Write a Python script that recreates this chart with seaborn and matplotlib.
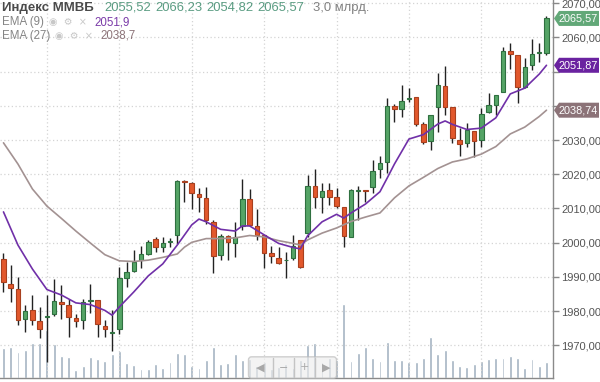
import numpy as np
import pandas as pd
import matplotlib
matplotlib.use("Agg")
import matplotlib.pyplot as plt
import seaborn as sns
from matplotlib.patches import Polygon, FancyBboxPatch
from matplotlib.ticker import FuncFormatter
from matplotlib.transforms import IdentityTransform

# дневные свечи индекса ММВБ
opens = [1995.2, 1987.9, 1986.5, 1977.8, 1980.2, 1977.0, 1978.3, 1979.2, 1982.7, 1981.9,
         1978.0, 1977.4, 1983.0, 1983.2, 1975.7, 1973.5, 1974.7, 1989.8, 1991.7, 1994.8,
         1996.8, 2001.1, 1998.6, 2000.1, 2002.3, 2018.1, 2017.4, 2014.2, 2013.0, 2006.1,
         1996.4, 2002.0, 1999.8, 2004.9, 2012.7, 2005.0, 2002.2, 1997.1, 1995.6, 1994.8,
         1995.4, 2000.8, 2002.7, 2016.6, 2013.3, 2015.4, 2013.3, 2010.5, 2001.8, 2015.1,
         2015.4, 2016.2, 2021.5, 2023.5, 2040.0, 2039.0, 2041.9, 2042.7, 2034.6, 2029.8,
         2039.6, 2045.8, 2039.8, 2030.0, 2029.1, 2032.7, 2030.0, 2038.1, 2040.3, 2044.2,
         2056.1, 2054.9, 2045.4, 2052.0, 2055.5, 2055.52]
highs = [1997.1, 1993.5, 1990.1, 1981.9, 1984.7, 1981.3, 1984.7, 1989.3, 1987.6, 1983.5,
         1979.2, 1983.5, 1987.8, 1983.2, 1977.4, 1980.3, 1993.0, 1994.4, 1997.9, 1999.0,
         2000.9, 2001.7, 2001.8, 2001.5, 2018.3, 2018.2, 2017.8, 2015.9, 2016.4, 2006.6,
         2002.5, 2002.3, 2006.0, 2018.5, 2015.6, 2009.8, 2002.2, 1999.0, 1998.7, 1997.4,
         2002.2, 2000.8, 2019.8, 2021.5, 2017.4, 2017.4, 2015.9, 2010.5, 2015.6, 2016.6,
         2015.4, 2024.2, 2025.4, 2042.4, 2040.6, 2046.1, 2045.1, 2042.7, 2035.2, 2037.3,
         2049.5, 2051.8, 2039.8, 2033.5, 2034.9, 2032.7, 2039.3, 2043.7, 2043.1, 2057.3,
         2058.5, 2054.9, 2053.9, 2059.5, 2058.3, 2066.23]
lows = [1985.7, 1982.7, 1975.9, 1973.8, 1975.9, 1972.0, 1965.1, 1978.6, 1977.6, 1972.5,
        1975.3, 1974.9, 1979.5, 1972.5, 1972.5, 1968.3, 1973.2, 1987.0, 1991.5, 1992.5,
        1996.4, 1997.4, 1997.4, 1998.7, 1999.5, 2011.8, 2009.8, 2009.1, 2005.5, 1991.1,
        1994.9, 1994.9, 1995.9, 2003.7, 2005.0, 2000.8, 1992.5, 1994.0, 1993.8, 1989.6,
        1994.9, 1992.6, 2001.8, 2010.1, 2008.6, 2011.0, 2010.1, 1998.7, 2001.6, 2006.6,
        2012.0, 2014.4, 2018.9, 2020.3, 2035.4, 2036.7, 2041.2, 2034.1, 2028.9, 2027.1,
        2032.5, 2037.3, 2029.2, 2025.4, 2028.1, 2025.1, 2028.1, 2037.8, 2037.3, 2044.2,
        2050.8, 2040.8, 2045.1, 2050.5, 2052.9, 2054.82]
closes = [1988.4, 1986.8, 1977.4, 1980.1, 1977.4, 1974.9, 1978.6, 1983.0, 1982.1, 1978.2,
          1977.2, 1982.7, 1983.2, 1976.3, 1974.8, 1974.0, 1989.6, 1991.3, 1994.3, 1996.7,
          2000.1, 1998.8, 1999.8, 2000.4, 2018.1, 2017.7, 2014.4, 2013.3, 2006.6, 1996.2,
          2002.0, 2000.3, 2001.6, 2012.7, 2005.2, 2002.3, 1997.1, 1996.2, 1994.0, 1995.0,
          1999.0, 1993.0, 2016.6, 2013.5, 2015.2, 2013.5, 2010.8, 2002.0, 2015.4, 2015.3,
          2015.0, 2021.1, 2023.2, 2040.0, 2039.0, 2041.4, 2042.2, 2034.7, 2029.5, 2037.3,
          2046.1, 2039.8, 2030.5, 2028.9, 2033.0, 2029.8, 2037.6, 2040.3, 2043.1, 2056.1,
          2055.1, 2045.6, 2051.5, 2055.2, 2055.8, 2065.57]
# объём, млрд руб.
volume = [5.7, 5.9, 5.0, 5.3, 6.7, 6.7, 9.0, 6.4, 4.1, 4.0,
          1.5, 2.3, 4.0, 3.6, 3.3, 4.6, 5.1, 2.8, 2.5, 1.7,
          1.7, 2.7, 1.9, 3.1, 4.8, 4.6, 2.3, 1.9, 3.4, 5.8,
          2.7, 2.9, 4.5, 3.4, 3.6, 2.3, 3.0, 1.7, 2.1, 2.6,
          1.9, 3.4, 6.3, 6.6, 3.0, 3.8, 3.4, 13.9, 3.3, 4.8,
          5.8, 3.8, 3.2, 6.8, 3.4, 3.4, 3.0, 3.0, 3.9, 7.7,
          4.6, 5.4, 3.4, 2.4, 2.1, 2.6, 3.2, 3.6, 3.8, 3.9,
          4.2, 3.9, 1.9, 3.6, 2.3, 3.0]

ema9_idx = [0, 2, 4, 6, 8, 10, 12, 14, 15, 16, 18, 20, 22, 24, 26, 27, 28, 30, 32, 33,
            34, 36, 38, 40, 41, 42, 44, 46, 47, 48, 50, 52, 53, 54, 56, 58, 60, 61, 62, 64,
            66, 67, 68, 70, 72, 74, 75]
ema9_val = [2009.0, 1999.3, 1992.3, 1986.3, 1984.7, 1982.4, 1981.9, 1980.2, 1978.8, 1981.2,
            1985.6, 1990.3, 1993.8, 1999.3, 2005.2, 2006.9, 2006.1, 2003.9, 2003.4, 2004.9,
            2004.9, 2002.3, 1999.8, 1998.6, 1998.2, 2002.0, 2006.1, 2008.3, 2007.2, 2008.7,
            2011.3, 2014.9, 2018.9, 2023.0, 2030.3, 2031.6, 2034.7, 2035.6, 2034.6, 2033.1,
            2033.5, 2035.0, 2036.5, 2043.5, 2045.2, 2049.3, 2051.87]
ema27_idx = [0, 2, 4, 6, 8, 10, 12, 14, 16, 18, 20, 22, 24, 25, 26, 28, 30, 32, 34, 36,
             38, 40, 41, 42, 44, 46, 48, 50, 52, 54, 56, 58, 60, 62, 64, 66, 68, 70, 72, 74, 75]
ema27_val = [2029.2, 2023.0, 2015.7, 2010.7, 2007.1, 2003.4, 1999.9, 1996.5, 1994.7, 1994.5,
             1994.9, 1995.7, 1996.7, 1998.7, 2000.1, 2001.2, 2001.2, 2001.4, 2002.1, 2001.7,
             2000.6, 1999.8, 1999.3, 2000.8, 2002.8, 2004.3, 2006.2, 2007.5, 2008.7, 2013.1,
             2016.6, 2019.1, 2021.7, 2023.6, 2024.5, 2025.9, 2028.1, 2031.8, 2033.8, 2036.9,
             2038.74]

df = pd.DataFrame({"o": opens, "h": highs, "l": lows, "c": closes, "vol": volume})
df["i"] = np.arange(len(df))
df["up"] = df["c"] >= df["o"]

sns.set_style("white")
plt.rcParams["font.family"] = ["Liberation Sans", "DejaVu Sans"]

fig = plt.figure(figsize=(6, 3.82), dpi=100)
pos = [0, 1 - 378.3 / 382, 553 / 600, 378.3 / 382]
vol_ax = fig.add_axes(pos, zorder=0)
ax = fig.add_axes(pos, zorder=1)
ax.patch.set_visible(False)

xlim = (-0.48, 75.9)

# объём
sns.barplot(x=df["i"], y=df["vol"], ax=vol_ax, native_scale=True, color="#a3b3c2",
            width=0.4, saturation=1, errorbar=None)
vol_ax.set_xlim(*xlim)
vol_ax.set_ylim(0, 71)
vol_ax.axis("off")

# свечи
green, green_edge = "#55a466", "#2f7040"
red, red_edge = "#e2582c", "#a8401f"
ax.vlines(df["i"], df["l"], df["h"], color="#222222", lw=1, zorder=2)
body = (df["c"] - df["o"]).abs().clip(lower=0.25)
bottom = df[["o", "c"]].min(axis=1)
ax.bar(df["i"], body, bottom=bottom, width=0.62, zorder=3,
       color=np.where(df["up"], green, red),
       edgecolor=np.where(df["up"], green_edge, red_edge), linewidth=0.8)

# EMA
sns.lineplot(x=ema27_idx, y=ema27_val, ax=ax, color="#a39292", lw=1.2, zorder=4)
sns.lineplot(x=ema9_idx, y=ema9_val, ax=ax, color="#7030a8", lw=1.2, zorder=5)

ax.set_xlim(*xlim)
ax.set_ylim(1960.35, 2070.96)
yt = list(range(1970, 2071, 10))
ax.set_yticks(yt)
ax.set_xticks(range(6, 76, 10))
ax.yaxis.tick_right()
# подписи 2040 и 2050 закрыты метками EMA
hidden = {2040, 2050}
ax.yaxis.set_major_formatter(FuncFormatter(
    lambda v, p: "" if round(v) in hidden else f"{v:.2f}".replace(".", ",")))
ax.tick_params(axis="y", length=4, width=1, color="#888888", labelcolor="#555555",
               labelsize=8, pad=2)
ax.tick_params(axis="x", length=3, width=1, color="#888888", labelbottom=False)
ax.grid(True, color="#d4d4d4", ls=(0, (1, 2)), lw=0.9)
ax.set_xlabel("")
ax.set_ylabel("")
for s in ["left", "top"]:
    ax.spines[s].set_visible(False)
for s in ["right", "bottom"]:
    ax.spines[s].set_color("#8a8a8a")
    ax.spines[s].set_linewidth(1)

# метки последних значений справа
fig.canvas.draw()
x0 = ax.bbox.x1


def tag(value, color, text):
    _, yd = ax.transData.transform((0, value))
    h = 7.5
    pts = [(x0 + 1, yd), (x0 + 6, yd + h), (x0 + 46, yd + h), (x0 + 46, yd - h), (x0 + 6, yd - h)]
    fig.add_artist(Polygon(pts, closed=True, transform=IdentityTransform(),
                           facecolor=color, edgecolor="none", zorder=10))
    fig.text(x0 + 25.5, yd, text, transform=IdentityTransform(), ha="center", va="center",
             color="white", fontsize=7.8, zorder=11)


tag(closes[-1], "#62a878", f"{closes[-1]:.2f}".replace(".", ","))
tag(ema9_val[-1], "#6a22a0", f"{ema9_val[-1]:.2f}".replace(".", ","))
tag(ema27_val[-1], "#8c7378", f"{ema27_val[-1]:.2f}".replace(".", ","))

# навигация внизу
W, H = 600, 382
nav = FancyBboxPatch((248.5, H - 378.3), 88, 21.5, boxstyle="round,pad=0,rounding_size=3",
                     transform=IdentityTransform(), facecolor="#eeeeee", alpha=0.65,
                     edgecolor="#b8b8b8", lw=1, zorder=10)
fig.add_artist(nav)
for xs in [272.7, 294, 315]:
    fig.add_artist(plt.Line2D([xs, xs], [H - 377, H - 358], transform=IdentityTransform(),
                              color="#c4c4c4", lw=1, zorder=11))
for xs, g in zip([260.5, 283.5, 304.5, 326], ["◀", "−", "+", "▶"]):
    fig.text(xs, H - 367.5, g, transform=IdentityTransform(), ha="center", va="center",
             color="#a8a8a8", fontsize=8, family=["DejaVu Sans"], zorder=12)


# легенда сверху слева
def ftxt(x, y, s, **kw):
    fig.text(x / W, 1 - y / H, s, va="center", ha="left", **kw)


ftxt(2, 8, "Индекс ММВБ", fontsize=9.5, fontweight="bold", color="#4a4a4a")
vals = [opens[-1], highs[-1], lows[-1], closes[-1]]
for xs, v in zip([104, 155, 206, 257], vals):
    ftxt(xs, 8, f"{v:.2f}".replace(".", ","), fontsize=9.4, color="#5a9c82")
ftxt(313, 8, f"{volume[-1]:.1f}".replace(".", ",") + " млрд.", fontsize=9.4, color="#808080")

ftxt(2, 22.5, "EMA (9)", fontsize=8.3, color="#858585")
ftxt(49, 22.5, "◉  ⚙  ×", fontsize=7, color="#c8c8c8", family=["DejaVu Sans"])
ftxt(94, 22.5, f"{ema9_val[-1]:.1f}".replace(".", ","), fontsize=8.3, color="#7a3aa8")
ftxt(2, 35.5, "EMA (27)", fontsize=8.3, color="#858585")
ftxt(55, 35.5, "◉  ⚙  ×", fontsize=7, color="#c8c8c8", family=["DejaVu Sans"])
ftxt(100, 35.5, f"{ema27_val[-1]:.1f}".replace(".", ","), fontsize=8.3, color="#8c7378")

fig.savefig("out.png", dpi=100)
